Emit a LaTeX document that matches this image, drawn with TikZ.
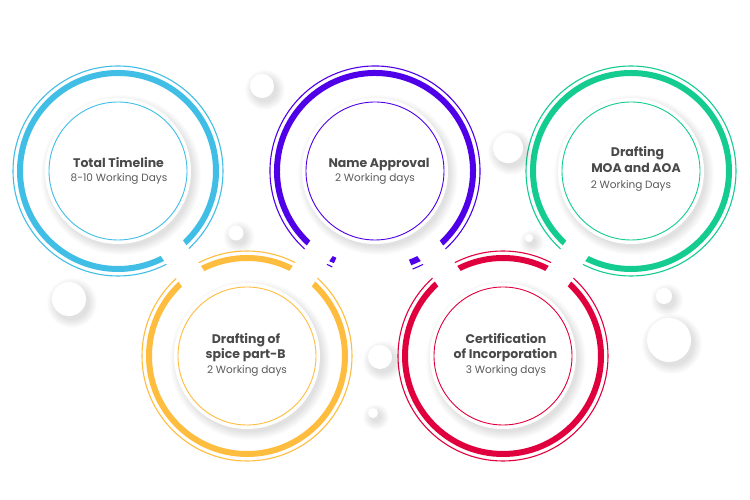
\documentclass[tikz,border=0pt]{standalone}
\usepackage{fontspec}
\setmainfont{Poppins}
\usetikzlibrary{calc}

\definecolor{cblue}{HTML}{41BEE6}
\definecolor{cpurple}{HTML}{5000E8}
\definecolor{cgreen}{HTML}{14CC8F}
\definecolor{cyellow}{HTML}{FFBD3F}
\definecolor{cred}{HTML}{E1003E}
\definecolor{ctitle}{HTML}{4A4A4A}
\definecolor{csub}{HTML}{5A5A5A}

% soft drop shadow below-right of a disc: x, y, radius
\newcommand\softshade[3]{%
  \foreach \k in {0,...,9}{%
    \fill[black,opacity=0.013] (#1+3,#2-4) circle ({#3+\k*0.9});
  }%
}

\tikzset{
  thinring/.style={line width=1.1pt},
  thickring/.style={line width=6pt},
  innerring/.style={line width=0.9pt},
  cutband/.style={white,line width=27pt},
  titletxt/.style={font=\bfseries\fontsize{12.5}{14}\selectfont,text=ctitle,anchor=base,inner sep=0pt},
  subtxt/.style={font=\fontsize{10.5}{12}\selectfont,text=csub,anchor=base,inner sep=0pt},
}

\begin{document}
\begin{tikzpicture}[x=1pt,y=1pt]
\useasboundingbox (0,0) rectangle (750,500);
\fill[white] (0,0) rectangle (750,500);

% circle centres
\coordinate (B) at (118,329);
\coordinate (P) at (375,329);
\coordinate (G) at (631,329);
\coordinate (Y) at (247,144);
\coordinate (R) at (503,144);

% outer rings
\draw[cblue,thinring] (B) circle (105);
\draw[cblue,thickring] (B) circle (98);
\draw[cgreen,thinring] (G) circle (105);
\draw[cgreen,thickring] (G) circle (98);
\draw[cyellow,thinring] (Y) circle (105);
\draw[cyellow,thickring] (Y) circle (98);
\draw[cred,thinring] (R) circle (105);
\draw[cred,thickring] (R) circle (98);
\draw[cpurple,thinring] ($(P)+(-69:105)$) arc[start angle=-69,end angle=246,radius=105];
\draw[cpurple,thickring] ($(P)+(-69:98)$) arc[start angle=-69,end angle=246,radius=98];

% white cuts between neighbouring rings
\draw[cutband] ($(B)!84pt!(Y)$) -- ($(Y)!84pt!(B)$);
\draw[cutband] ($(Y)!84pt!(P)$) -- ($(P)!84pt!(Y)$);
\draw[cutband] ($(P)!84pt!(R)$) -- ($(R)!84pt!(P)$);
\draw[cutband] ($(R)!84pt!(G)$) -- ($(G)!84pt!(R)$);

% inner discs
\softshade{118}{329}{72}
\softshade{375}{329}{72}
\softshade{631}{329}{72}
\softshade{247}{144}{72}
\softshade{503}{144}{72}
\foreach \c in {B,P,G,Y,R}{\fill[white] (\c) circle (73);}
\draw[cblue,innerring] (B) circle (69);
\draw[cpurple,innerring] (P) circle (69);
\draw[cgreen,innerring] (G) circle (69);
\draw[cyellow,innerring] (Y) circle (69);
\draw[cred,innerring] (R) circle (69);

% decorative balls
\foreach \bx/\by/\br in {262/414/12, 508/352/15, 236/267/7.5, 69/201/17,
    664/204/8, 669/160/22, 380/143/12, 373/87/5, 529/262/4}{
  \softshade{\bx}{\by}{\br}
  \fill[white] (\bx,\by) circle (\br);
}

% labels
\node[titletxt] (b1) at (118.5,332.5) {Total Timeline};
\node[subtxt]   (b2) at (119,318.3) {8-10 Working Days};

\node[titletxt] (p1) at (379,332.5) {Name Approval};
\node[subtxt]   (p2) at (375,318.3) {2 Working days};

\node[titletxt] (g1) at (637.5,343.3) {Drafting};
\node[titletxt] (g2) at (636,327.7) {MOA and AOA};
\node[subtxt]   (g3) at (631,311.7) {2 Working Days};

\node[titletxt] (y1) at (246,156.5) {Drafting of};
\node[titletxt] (y2) at (245.7,141.7) {spice part-B};
\node[subtxt]   (y3) at (247,126.5) {2 Working days};

\node[titletxt] (r1) at (506,156.5) {Certification};
\node[titletxt] (r2) at (505.5,141.7) {of Incorporation};
\node[subtxt]   (r3) at (506,126.5) {3 Working days};
\end{tikzpicture}
\end{document}
